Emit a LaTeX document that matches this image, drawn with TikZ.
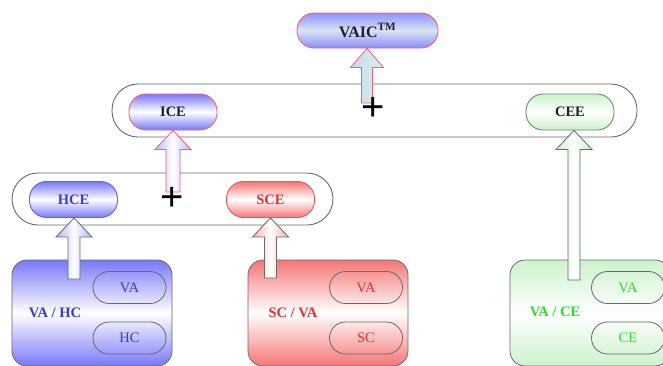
\documentclass[tikz,border=0pt]{standalone}
\usepackage{fontspec}
\setmainfont{Liberation Serif}
\newfontfamily\plusfont{Liberation Sans}
\usetikzlibrary{calc}

% palette
\definecolor{blueshade}{RGB}{120,120,248}
\definecolor{bluetext}{RGB}{55,55,230}
\definecolor{blueline}{RGB}{95,95,240}
\definecolor{redshade}{RGB}{244,118,118}
\definecolor{redtext}{RGB}{236,45,45}
\definecolor{redline}{RGB}{240,85,85}
\definecolor{greenshade}{RGB}{205,242,205}
\definecolor{greentext}{RGB}{40,222,40}
\definecolor{greenline}{RGB}{105,135,105}
\definecolor{pinkline}{RGB}{242,95,115}
\definecolor{frame}{RGB}{105,105,105}
\definecolor{darktext}{RGB}{30,30,45}

% upward block arrow: style, tail, tip, shaft half width, head half width
\newcommand\blockarrow[5]{%
  \path[#1] let \p1=(#2), \p2=(#3) in
    (\x1-#4,\y1) -- (\x1-#4,\y2-19pt) -- (\x1-#5,\y2-19pt) -- (\x1,\y2)
    -- (\x1+#5,\y2-19pt) -- (\x1+#4,\y2-19pt) -- (\x1+#4,\y1) -- cycle;}

\tikzset{
  pill/.style={rectangle, rounded corners=17pt, line width=0.9pt, inner sep=0pt,
    minimum width=88pt, minimum height=36pt,
    font=\fontsize{14.5}{16}\selectfont\bfseries},
  bluepill/.style={pill, draw=blueline, text=bluetext,
    top color=blueshade, bottom color=blueshade, middle color=white},
  redpill/.style={pill, draw=redline, text=redtext,
    top color=redshade, bottom color=redshade, middle color=white},
  greenpill/.style={pill, draw=greenline, text=darktext,
    top color=greenshade, bottom color=greenshade, middle color=white},
  container/.style={rectangle, rounded corners=26pt, draw=frame, line width=0.9pt,
    fill=white},
  bigbox/.style={rectangle, rounded corners=15pt, draw=frame, line width=0.8pt,
    minimum width=160pt, minimum height=106pt},
  innerpill/.style={rectangle, rounded corners=16pt, draw=frame, line width=0.8pt,
    minimum width=73pt, minimum height=32pt, inner sep=0pt,
    font=\fontsize{14.5}{16}\selectfont},
  grouplabel/.style={font=\fontsize{14.5}{16}\selectfont\bfseries, inner sep=1pt},
  plus/.style={font=\plusfont\fontsize{40}{42}\selectfont, inner sep=0pt, text=black},
  arrowline/.style={line width=0.8pt, draw=frame},
}

\begin{document}
\begin{tikzpicture}[x=1pt, y=-1pt]
  \useasboundingbox (0,0) rectangle (663,365);
  \clip (0,0) rectangle (663,365);

  % groups
  \node[container, minimum width=525pt, minimum height=53pt] (upper) at (374.5,110.5) {};
  \node[container, minimum width=321pt, minimum height=52pt] (lower) at (172.5,199) {};

  % top node
  \node[pill, draw=pinkline, text=darktext, minimum width=141pt, minimum height=35pt,
        top color={rgb,255:red,145;green,145;blue,250},
        bottom color={rgb,255:red,140;green,140;blue,250},
        middle color={rgb,255:red,215;green,228;blue,240},
        font=\fontsize{16}{18}\selectfont\bfseries] (vaic) at (367.5,30.5) {VAIC\textsuperscript{TM}};

  % second level
  \node[bluepill, draw=pinkline, text=darktext] (ice) at (173,112) {ICE};
  \node[greenpill] (cee) at (570,112) {CEE};

  % third level
  \node[bluepill] (hce) at (73.5,199.5) {HCE};
  \node[redpill] (sce) at (270.5,199.5) {SCE};

  % ratio boxes
  \node[bigbox, top color=blueshade, bottom color=blueshade, middle color=white] (vahc) at (92,313) {};
  \node[grouplabel, text=bluetext] (vahclab) at (55,313) {VA / HC};
  \node[innerpill, text=bluetext] (va1) at (129.5,287.5) {VA};
  \node[innerpill, text=bluetext] (hc) at (129.5,338) {HC};

  \node[bigbox, top color=redshade, bottom color=redshade, middle color=white] (scva) at (328,313) {};
  \node[grouplabel, text=redtext] (scvalab) at (293,313) {SC / VA};
  \node[innerpill, text=redtext] (va2) at (366,287.5) {VA};
  \node[innerpill, text=redtext] (sc) at (366,338) {SC};

  \node[bigbox, top color=greenshade, bottom color=greenshade, middle color=white] (vace) at (590,313) {};
  \node[grouplabel, text=greentext] (vacelab) at (555,312) {VA / CE};
  \node[innerpill, text=greentext] (va3) at (628,287.5) {VA};
  \node[innerpill, text=greentext] (ce) at (628,338) {CE};

  % arrow tails
  \coordinate (t1) at (367,103);
  \coordinate (t2) at (173,192);
  \coordinate (t3) at (74,279);
  \coordinate (t4) at (270.5,278);
  \coordinate (t5) at (574,280);

  % arrows
  \blockarrow{line width=0.8pt, draw=pinkline,
    left color={rgb,255:red,205;green,212;blue,248},
    right color={rgb,255:red,212;green,244;blue,225}}{t1}{vaic.south}{5.5pt}{16.5pt}
  \blockarrow{line width=0.8pt, draw=pinkline,
    left color={rgb,255:red,185;green,185;blue,250},
    right color={rgb,255:red,185;green,185;blue,250}, middle color=white}{t2}{ice.south}{7pt}{18pt}
  \blockarrow{arrowline,
    left color={rgb,255:red,175;green,175;blue,250},
    right color={rgb,255:red,175;green,175;blue,250}, middle color=white}{t3}{hce.south}{6pt}{18pt}
  \blockarrow{arrowline,
    left color={rgb,255:red,245;green,175;blue,175},
    right color={rgb,255:red,245;green,175;blue,175}, middle color=white}{t4}{sce.south}{6pt}{18pt}
  \blockarrow{arrowline,
    left color={rgb,255:red,205;green,238;blue,205},
    right color={rgb,255:red,205;green,238;blue,205}, middle color=white}{t5}{cee.south}{6pt}{18pt}

  % sums
  \node[plus] (plus1) at (373,109) {+};
  \node[plus] (plus2) at (172,199) {+};
\end{tikzpicture}
\end{document}
